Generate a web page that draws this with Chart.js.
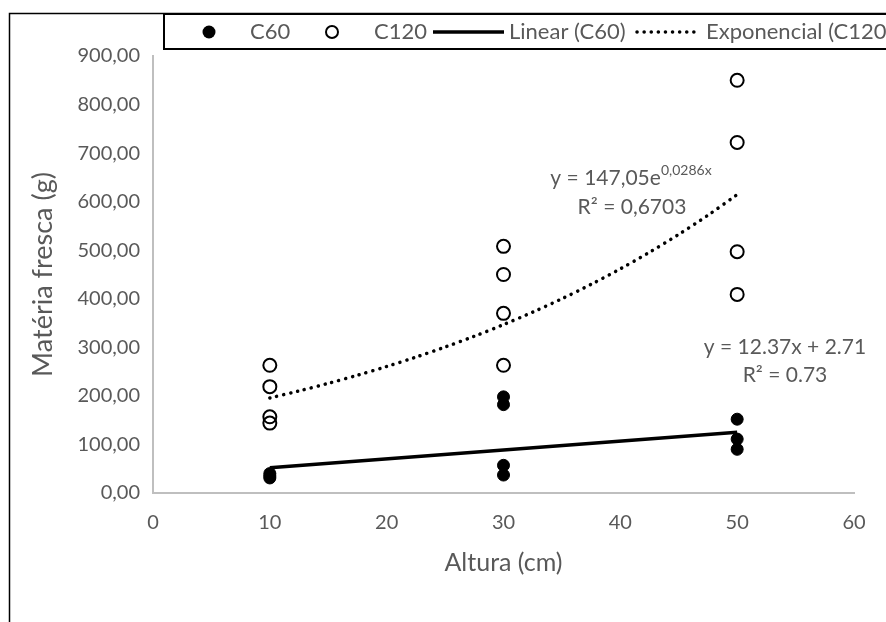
<!DOCTYPE html>
<html><head><meta charset="utf-8">
<script src="https://cdn.jsdelivr.net/npm/chart.js@4/dist/chart.umd.min.js"></script>
<style>html,body{margin:0;padding:0;background:#fff;overflow:hidden}canvas{display:block}</style>
</head><body>
<canvas id="c" width="886" height="622" style="width:886px;height:622px"></canvas>
<script>
// ---- data ----
const xTickValues = [0, 10, 20, 30, 40, 50, 60];
const yTickValues = [0, 100, 200, 300, 400, 500, 600, 700, 800, 900];
const c60X = [10, 10, 10, 30, 30, 30, 30, 50, 50, 50];
const c60Y = [31, 35, 40, 198, 182, 57, 37, 152, 111, 90];
const c120X = [10, 10, 10, 10, 30, 30, 30, 30, 50, 50, 50, 50];
const c120Y = [263, 219, 157, 144, 508, 450, 370, 263, 850, 722, 497, 409];
const linearTrendX = [10, 50];
const linearTrendY = [52, 125];
const expTrendX = [10, 12.5, 15, 17.5, 20, 22.5, 25, 27.5, 30, 32.5, 35, 37.5, 40, 42.5, 45, 47.5, 50];
const expCoef = [147.05, 0.0286]; // y = a·e^(b·x), from the chart's label
const legendLabels = ['C60', 'C120', 'Linear (C60)', 'Exponencial (C120)'];
const xTitle = 'Altura (cm)';
const yTitle = 'Matéria fresca (g)';

const FONT = 'Lato, Carlito, "Liberation Sans", sans-serif';
const GRAY = '#595959';
const AXIS = '#BFBFBF';

const pts = (xs, ys) => xs.map((x, i) => ({x, y: ys[i]}));
const expY = expTrendX.map(x => expCoef[0] * Math.exp(expCoef[1] * x));

const decor = {
  id: 'decor',
  beforeDraw(chart) {
    const ctx = chart.ctx;
    ctx.save();
    ctx.fillStyle = '#fff';
    ctx.fillRect(0, 0, chart.width, chart.height);
    ctx.restore();
  },
  afterDraw(chart) {
    const ctx = chart.ctx;
    ctx.save();
    // outer chart border
    ctx.strokeStyle = '#000';
    ctx.lineWidth = 1.5;
    ctx.strokeRect(9.5, 13.5, 900, 700);
    // legend box
    ctx.lineWidth = 2;
    ctx.strokeRect(164, 14, 800, 35);
    const ly = 32;
    ctx.font = '22px ' + FONT;
    ctx.fillStyle = GRAY;
    ctx.textBaseline = 'middle';
    ctx.textAlign = 'left';
    // C60 marker
    ctx.fillStyle = '#000';
    ctx.beginPath(); ctx.arc(209, ly, 6.5, 0, Math.PI * 2); ctx.fill();
    ctx.fillStyle = GRAY;
    ctx.fillText(legendLabels[0], 250, ly);
    // C120 marker
    ctx.strokeStyle = '#000'; ctx.lineWidth = 2;
    ctx.beginPath(); ctx.arc(332, ly, 6, 0, Math.PI * 2); ctx.stroke();
    ctx.fillText(legendLabels[1], 374, ly);
    // linear line
    ctx.lineWidth = 3.5;
    ctx.beginPath(); ctx.moveTo(433, ly); ctx.lineTo(504, ly); ctx.stroke();
    ctx.fillText(legendLabels[2], 509, ly);
    // dotted
    ctx.lineWidth = 3.5; ctx.lineCap = 'round'; ctx.setLineDash([0.1, 7]);
    ctx.beginPath(); ctx.moveTo(637, ly); ctx.lineTo(699, ly); ctx.stroke();
    ctx.setLineDash([]);
    ctx.fillText(legendLabels[3], 706, ly);

    // trendline labels
    ctx.fillStyle = GRAY;
    ctx.font = '21px ' + FONT;
    const main1 = 'y = 147,05e', sup1 = '0,0286x';
    const w1 = ctx.measureText(main1).width;
    ctx.font = '14px ' + FONT;
    const ws = ctx.measureText(sup1).width;
    const cx1 = 631;
    const sx = cx1 - (w1 + ws) / 2;
    ctx.font = '21px ' + FONT;
    ctx.fillText(main1, sx, 178);
    ctx.font = '14px ' + FONT;
    ctx.fillText(sup1, sx + w1, 170);
    ctx.font = '21px ' + FONT;
    ctx.textAlign = 'center';
    ctx.fillText('R² = 0,6703', 632, 207);
    ctx.fillText('y = 12.37x + 2.71', 785, 347);
    ctx.fillText('R² = 0.73', 785, 375);
    ctx.restore();
  }
};

new Chart(document.getElementById('c'), {
  type: 'scatter',
  data: {
    datasets: [
      { label: legendLabels[0], data: pts(c60X, c60Y), backgroundColor: '#000', borderColor: '#000',
        pointRadius: 6, pointBorderWidth: 1, showLine: false, order: 2 },
      { label: legendLabels[1], data: pts(c120X, c120Y), backgroundColor: 'rgba(255,255,255,0)', borderColor: '#000',
        pointRadius: 6.5, pointBorderWidth: 2, showLine: false, order: 3 },
      { label: legendLabels[2], type: 'line', data: pts(linearTrendX, linearTrendY), borderColor: '#000',
        borderWidth: 3.5, pointRadius: 0, fill: false, order: 1 },
      { label: legendLabels[3], type: 'line', data: pts(expTrendX, expY), borderColor: '#000',
        borderWidth: 3.5, borderDash: [0.1, 7], borderCapStyle: 'round', pointRadius: 0, fill: false,
        tension: 0.3, order: 1 }
    ]
  },
  options: {
    responsive: false,
    animation: false,
    devicePixelRatio: 1,
    layout: { padding: { top: 56, right: 32, left: 0, bottom: 0 } },
    plugins: { legend: { display: false }, tooltip: { enabled: false } },
    scales: {
      x: {
        type: 'linear', min: 0, max: 60,
        afterBuildTicks: s => { s.ticks = xTickValues.map(v => ({value: v})); },
        afterFit: s => { s.height = 129; },
        grid: { display: true, drawOnChartArea: false, drawTicks: false },
        border: { display: true, color: AXIS, width: 2 },
        ticks: { color: GRAY, font: { family: FONT, size: 20 }, padding: 18,
                 callback: v => String(v) },
        title: { display: true, text: xTitle, color: GRAY, font: { family: FONT, size: 25 },
                 padding: { top: 0, bottom: 44 } }
      },
      y: {
        type: 'linear', min: 0, max: 900,
        afterBuildTicks: s => { s.ticks = yTickValues.map(v => ({value: v})); },
        afterFit: s => { s.width = 153; },
        grid: { display: true, drawOnChartArea: false, drawTicks: false },
        border: { display: true, color: AXIS, width: 2 },
        ticks: { color: GRAY, font: { family: FONT, size: 20 }, padding: 13,
                 callback: v => v.toFixed(2).replace('.', ',') },
        title: { display: true, text: yTitle, color: GRAY, font: { family: FONT, size: 27 },
                 padding: { top: 27, bottom: 0 } }
      }
    }
  },
  plugins: [decor]
});
</script>
</body></html>
